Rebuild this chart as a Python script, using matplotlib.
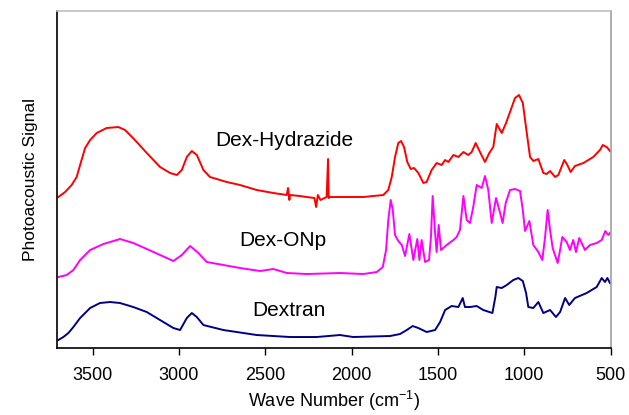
import matplotlib
matplotlib.use("Agg")
import matplotlib.pyplot as plt

plt.rcParams['font.family'] = ['Liberation Sans', 'DejaVu Sans']

# Dex-Hydrazide (red)
hyd_x = [3698, 3659, 3621, 3592, 3572, 3543, 3514, 3476, 3418, 3351, 3312, 3283, 3244,
         3186, 3109, 3051, 3012, 2983, 2954, 2925, 2896, 2858, 2820, 2723, 2646, 2549,
         2453, 2375, 2368, 2360, 2356, 2300, 2260, 2215, 2205, 2195, 2180, 2144, 2136,
         2132, 2125, 1932, 1816, 1787, 1767, 1748, 1729, 1713, 1696, 1677, 1657, 1638,
         1613, 1584, 1565, 1536, 1507, 1478, 1458, 1439, 1410, 1381, 1352, 1324, 1304,
         1281, 1256, 1227, 1202, 1179, 1159, 1130, 1105, 1082, 1053, 1030, 1008, 985,
         966, 947, 918, 889, 870, 850, 821, 802, 768, 750, 731, 706, 657, 600, 561, 545,
         522, 503]
hyd_y = [151, 156, 163, 171, 183, 200, 208, 215, 220, 221, 218, 213, 206,
         195, 181, 175, 173, 178, 191, 197, 193, 178, 171, 166, 163, 158,
         155, 153, 160, 148, 153, 152, 151, 150, 141, 153, 148, 151, 189,
         150, 151, 151, 153, 158, 171, 191, 205, 207, 201, 186, 179, 180,
         175, 165, 166, 178, 185, 183, 188, 186, 193, 191, 196, 193, 196,
         205, 196, 186, 195, 201, 224, 215, 225, 236, 250, 253, 245, 215,
         191, 187, 189, 175, 174, 177, 171, 173, 188, 183, 176, 182, 185, 191, 198, 203,
         201, 197]

# Dex-ONp (magenta)
onp_x = [3698, 3650, 3611, 3572, 3514, 3437, 3341, 3264, 3186, 3109, 3032, 2983, 2935,
         2887, 2839, 2742, 2646, 2530, 2453, 2375, 2260, 2067, 1932, 1854, 1819, 1800,
         1787, 1773, 1761, 1748, 1729, 1709, 1690, 1665, 1642, 1619, 1607, 1594, 1574,
         1551, 1540, 1530, 1516, 1507, 1495, 1482, 1449, 1410, 1391, 1372, 1352, 1333,
         1314, 1295, 1275, 1256, 1246, 1227, 1208, 1188, 1163, 1144, 1125, 1107, 1082,
         1053, 1024, 1008, 995, 970, 947, 918, 895, 879, 864, 850, 835, 806, 792, 779,
         754, 735, 716, 700, 681, 648, 619, 580, 551, 530, 513, 503]
onp_y = [71, 73, 78, 88, 98, 104, 109, 105, 99, 93, 87, 93, 102,
         95, 86, 83, 80, 77, 79, 75, 74, 75, 74, 76, 81, 98,
         128, 148, 138, 113, 107, 103, 92, 114, 88, 109, 88, 108, 86,
         88, 111, 152, 115, 96, 123, 98, 103, 108, 111, 118, 152, 128,
         125, 141, 163, 161, 160, 172, 158, 125, 150, 138, 125, 145, 158,
         159, 157, 138, 117, 127, 103, 96, 88, 111, 138, 118, 100, 85, 98, 111,
         106, 98, 108, 96, 110, 98, 103, 105, 108, 117, 113, 115]

# Dextran (navy)
dex_x = [3698, 3669, 3640, 3611, 3572, 3514, 3457, 3399, 3341, 3264, 3186, 3109, 3032,
         2993, 2954, 2925, 2896, 2858, 2742, 2549, 2356, 2202, 2067, 1990, 1777, 1719,
         1680, 1646, 1613, 1565, 1516, 1487, 1458, 1420, 1381, 1356, 1343, 1314, 1275,
         1237, 1184, 1167, 1159, 1130, 1101, 1063, 1034, 1008, 989, 976, 947, 918, 889,
         850, 816, 792, 763, 739, 706, 638, 580, 551, 532, 518, 503]
dex_y = [8, 11, 15, 21, 30, 40, 45, 46, 45, 41, 36, 28, 20,
         18, 30, 35, 31, 23, 18, 13, 11, 11, 13, 11, 12, 14,
         18, 22, 20, 16, 18, 26, 38, 42, 41, 50, 41, 41, 42,
         38, 35, 51, 61, 60, 63, 68, 70, 67, 55, 41, 40, 46, 35,
         38, 31, 36, 50, 43, 50, 55, 61, 70, 66, 70, 65]

labels = ["Dex-Hydrazide", "Dex-ONp", "Dextran"]
label_x = [2391, 2397, 2365]
label_y = [208, 108, 38]

fig = plt.figure(figsize=(6.29, 4.15), dpi=100)
ax = fig.add_axes([0.0914, 0.1614, 0.8792, 0.8109])

ax.plot(hyd_x, hyd_y, color='#ff0000', lw=1.4)
ax.plot(onp_x, onp_y, color='#ff00ff', lw=1.4)
ax.plot(dex_x, dex_y, color='#000080', lw=1.4)

for t, x, y in zip(labels, label_x, label_y):
    ax.text(x, y, t, fontsize=15, ha='center', va='center', color='black')

ax.set_xlim(3703, 500)
ax.set_ylim(0, 336.5)
ax.set_xticks([3500, 3000, 2500, 2000, 1500, 1000, 500])
ax.set_yticks([])
ax.tick_params(axis='x', direction='out', length=5, width=1, labelsize=13, pad=9)
ax.spines['left'].set_color('black')
ax.spines['bottom'].set_color('black')
ax.spines['top'].set_color('#c0c0c0')
ax.spines['right'].set_color('#a0a0a0')
for s in ax.spines.values():
    s.set_linewidth(1.2)

ax.set_xlabel('Wave Number (cm$^{\\mathregular{-1}}$)', fontsize=13, labelpad=3)
ax.set_ylabel('Photoacoustic Signal', fontsize=12.5, labelpad=14)

fig.savefig('out.png', dpi=100)
